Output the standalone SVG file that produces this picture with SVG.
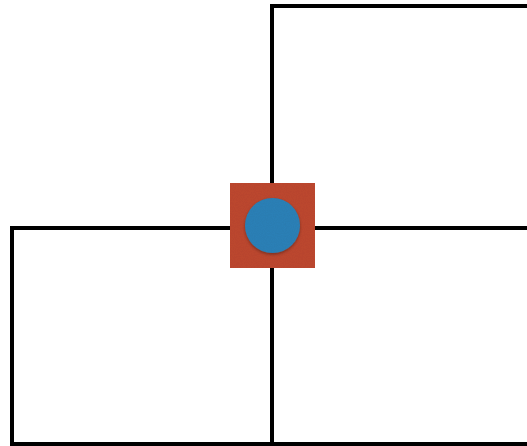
<svg xmlns="http://www.w3.org/2000/svg" width="527" height="446" viewBox="0 0 527 446">
  <defs>
    <style>
      .wire { fill: none; stroke: #000; stroke-width: 4; stroke-linecap: square; }
    </style>
    <filter id="paper" x="0" y="0" width="100%" height="100%">
      <feTurbulence type="fractalNoise" baseFrequency="0.9" numOctaves="2" seed="3" result="n"/>
      <feColorMatrix in="n" type="matrix" values="0 0 0 0 0  0 0 0 0 0  0 0 0 0 0  0 0 0 0.12 0" result="g"/>
      <feComposite in="g" in2="SourceGraphic" operator="in" result="gm"/>
      <feMerge><feMergeNode in="SourceGraphic"/><feMergeNode in="gm"/></feMerge>
    </filter>
    <filter id="shadow" x="-20%" y="-20%" width="140%" height="140%">
      <feDropShadow dx="0" dy="1.5" stdDeviation="1.5" flood-color="#000" flood-opacity="0.35"/>
    </filter>
  </defs>
  <rect width="527" height="446" fill="#fff"/>
  <g id="connectors">
    <path class="wire" d="M272 6 H527"/>
    <path class="wire" d="M272 6 V444"/>
    <path class="wire" d="M12 228 H527"/>
    <path class="wire" d="M12 228 V444 H527"/>
  </g>
  <g id="node-center">
    <rect x="230" y="183" width="85" height="85" fill="#bf4a32" filter="url(#paper)"/>
    <g filter="url(#shadow)">
      <circle cx="272.5" cy="225.5" r="27.5" fill="#2f82b9" filter="url(#paper)"/>
    </g>
  </g>
</svg>
